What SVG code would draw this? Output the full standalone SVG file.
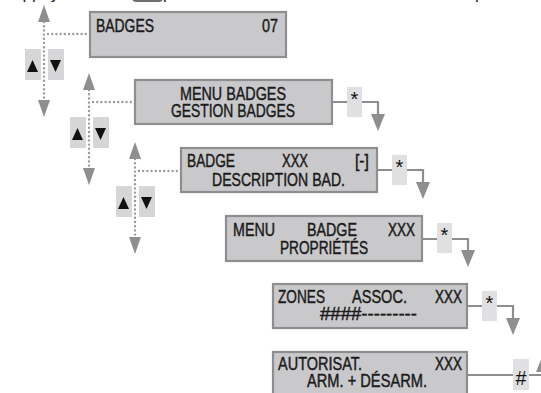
<svg xmlns="http://www.w3.org/2000/svg" width="541" height="393" viewBox="0 0 541 393">
<style>
.box{fill:#c9c9cb;stroke:#8e8e90;stroke-width:2.2}
.t{font-family:"Liberation Sans Narrow","Liberation Sans",Arial,sans-serif;font-size:18.5px;fill:#1a1a1a;stroke:#1a1a1a;stroke-width:0.45}
.dot{fill:none;stroke:#9a9a9a;stroke-width:2.4;stroke-linecap:round;stroke-dasharray:0 4.2}
.ln{fill:none;stroke:#8e8e90;stroke-width:2.2}
.ah{fill:#8e8e90}
.btn{fill:#d6d6d8}
.tri{fill:#111}
.key{fill:#e0e0e2}
.kt{font-family:"Liberation Sans",Arial,sans-serif;font-size:20px;fill:#111}
.top{font-family:"Liberation Sans",Arial,sans-serif;font-size:17px;fill:#222}
</style>
<defs>
<g id="nav">
<path class="dot" d="M0 22V100"/>
<polygon class="ah" points="0,5 -6,22 6,22"/>
<polygon class="ah" points="0,117 -6,100 6,100"/>
<rect class="btn" x="-19" y="49" width="16" height="31"/>
<rect class="btn" x="4" y="49" width="16" height="31"/>
<polygon class="tri" points="-11.5,60 -17,72 -6,72"/>
<polygon class="tri" points="11.5,72 6,60 17,60"/>
</g>
</defs>

<g id="header">
<text class="top" x="13" y="-1">appuyez</text>
<rect x="132" y="-10" width="31" height="12" rx="4" fill="#6e6e70"/>
<text class="top" x="163" y="-1">pour</text>
<text class="top" x="475" y="-1">p</text>
</g>

<g id="nav1"><use href="#nav" x="44" y="0"/><path class="dot" d="M48 34H88"/></g>
<g id="nav2"><use href="#nav" x="89" y="68"/><path class="dot" d="M93 102H133"/></g>
<g id="nav3"><use href="#nav" x="135" y="137"/><path class="dot" d="M139 171H179"/></g>

<g id="n1">
<rect class="box" x="90" y="12" width="196" height="45"/>
<text class="t" x="96" y="32" textLength="58" lengthAdjust="spacingAndGlyphs">BADGES</text>
<text class="t" x="262" y="32" textLength="16" lengthAdjust="spacingAndGlyphs">07</text>
</g>

<g id="n2">
<rect class="box" x="135" y="80" width="197" height="44"/>
<text class="t" x="180" y="100" textLength="106" lengthAdjust="spacingAndGlyphs">MENU BADGES</text>
<text class="t" x="171" y="117" textLength="124" lengthAdjust="spacingAndGlyphs">GESTION BADGES</text>
</g>

<g id="n3">
<rect class="box" x="181" y="148" width="196" height="44"/>
<text class="t" x="187" y="167" textLength="48" lengthAdjust="spacingAndGlyphs">BADGE</text>
<text class="t" x="282" y="167" textLength="26" lengthAdjust="spacingAndGlyphs">XXX</text>
<text class="t" x="355" y="167" textLength="14" lengthAdjust="spacingAndGlyphs">[-]</text>
<text class="t" x="212" y="186" textLength="133" lengthAdjust="spacingAndGlyphs">DESCRIPTION BAD.</text>
</g>

<g id="n4">
<rect class="box" x="226" y="216" width="196" height="45"/>
<text class="t" x="233" y="236" textLength="42" lengthAdjust="spacingAndGlyphs">MENU</text>
<text class="t" x="307" y="236" textLength="50" lengthAdjust="spacingAndGlyphs">BADGE</text>
<text class="t" x="388" y="236" textLength="27" lengthAdjust="spacingAndGlyphs">XXX</text>
<text class="t" x="280" y="254" textLength="88" lengthAdjust="spacingAndGlyphs">PROPRIÉTÉS</text>
</g>

<g id="n5">
<rect class="box" x="273" y="284" width="194" height="44"/>
<text class="t" x="278" y="303" textLength="47" lengthAdjust="spacingAndGlyphs">ZONES</text>
<text class="t" x="352" y="303" textLength="55" lengthAdjust="spacingAndGlyphs">ASSOC.</text>
<text class="t" x="435" y="303" textLength="27" lengthAdjust="spacingAndGlyphs">XXX</text>
<text class="t" x="320" y="320" textLength="97" lengthAdjust="spacingAndGlyphs">####---------</text>
</g>

<g id="n6">
<rect class="box" x="273" y="352" width="194" height="46"/>
<text class="t" x="278" y="370" textLength="84" lengthAdjust="spacingAndGlyphs">AUTORISAT.</text>
<text class="t" x="435" y="370" textLength="27" lengthAdjust="spacingAndGlyphs">XXX</text>
<text class="t" x="307" y="387" textLength="120" lengthAdjust="spacingAndGlyphs">ARM. + DÉSARM.</text>
</g>

<g id="connectors">
<path class="ln" d="M332 102H347M362 102H378V115"/>
<polygon class="ah" points="378,131 371,114 385,114"/>
<rect class="key" x="347" y="87" width="15" height="30"/>
<text class="kt" x="354.5" y="106" text-anchor="middle">*</text>

<path class="ln" d="M377 170H392M407 170H423V183"/>
<polygon class="ah" points="423,199 416,182 430,182"/>
<rect class="key" x="392" y="155" width="15" height="30"/>
<text class="kt" x="399.5" y="174" text-anchor="middle">*</text>

<path class="ln" d="M422 239H437M452 239H468V251"/>
<polygon class="ah" points="468,267 461,250 475,250"/>
<rect class="key" x="437" y="223" width="15" height="30"/>
<text class="kt" x="444.5" y="242" text-anchor="middle">*</text>

<path class="ln" d="M467 306H482M497 306H513V319"/>
<polygon class="ah" points="513,335 506,318 520,318"/>
<rect class="key" x="482" y="291" width="15" height="30"/>
<text class="kt" x="489.5" y="310" text-anchor="middle">*</text>

<path class="ln" d="M467 375H513M529 375H543V371"/>
<polygon class="ah" points="543,355 536,372 550,372"/>
<rect class="key" x="513" y="359" width="16" height="31"/>
<text class="kt" x="521" y="385" text-anchor="middle" font-size="22" textLength="11" lengthAdjust="spacingAndGlyphs">#</text>
</g>
</svg>
